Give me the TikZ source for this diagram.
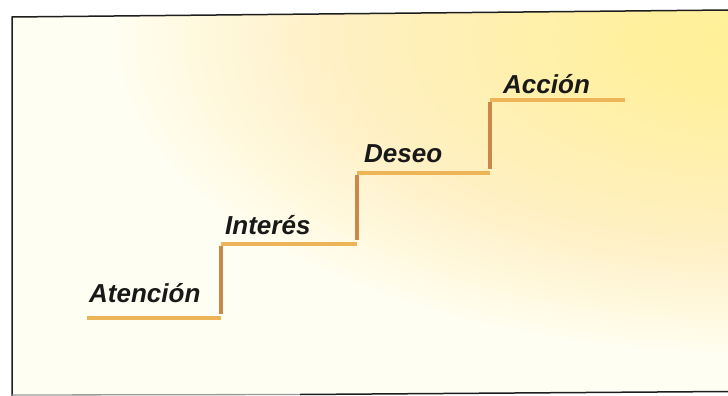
\documentclass[tikz,border=0pt]{standalone}
\usepackage{fontspec}
\setmainfont{Liberation Sans}
\definecolor{ivory}{HTML}{FFFEF2}
\definecolor{glow}{HTML}{FFF07A}
\definecolor{tread}{HTML}{EDB558}
\definecolor{riser}{HTML}{C8894A}
\definecolor{framec}{HTML}{1E1E1E}
\tikzset{
  lab/.style={anchor=base west, inner sep=0pt, font=\fontsize{26}{30}\selectfont\bfseries\itshape, text=black!90},
  treadline/.style={draw=tread, line width=4.2pt},
  riserline/.style={draw=riser, line width=3.2pt},
  frameline/.style={draw=framec, line width=1.5pt}
}
\begin{document}
\begin{tikzpicture}[x=1pt,y=-1pt]
\useasboundingbox (0,0) rectangle (728,396);
\fill[white] (0,0) rectangle (728,396);
\begin{scope}
  \clip (12,17) -- (728,10) -- (728,391) -- (12,395) -- cycle;
  \fill[ivory] (0,0) rectangle (728,396);
  \foreach \i in {1,...,40} {
    \fill[glow, fill opacity=0.026] (760,40) ellipse [x radius=16*\i, y radius=7.8*\i];
  }
\end{scope}
% frame
\coordinate (fbl) at (12,396);
\coordinate (ftl) at (12,17);
\coordinate (ftr) at (728,10);
\coordinate (fbm) at (300,394.5);
\coordinate (fbr) at (728,391.5);
\draw[frameline] (fbl) -- (ftl) -- (ftr);
\draw[frameline, draw=framec!45, line width=1.3pt] (12,395) -- (fbm);
\draw[frameline] (fbm) -- (fbr);
% stairs
\coordinate (s0) at (87,318);
\coordinate (s1) at (221,318);
\coordinate (s2) at (221,244);
\coordinate (s3) at (357,244);
\coordinate (s4) at (357,173);
\coordinate (s5) at (490,173);
\coordinate (s6) at (490,100);
\coordinate (s7) at (625,100);
\draw[riserline] ([yshift=4]s1) -- ([yshift=-2]s2);
\draw[riserline] ([yshift=4]s3) -- ([yshift=-2]s4);
\draw[riserline] ([yshift=4]s5) -- ([yshift=-2]s6);
\draw[treadline] (s0) -- (s1);
\draw[treadline] (s2) -- (s3);
\draw[treadline] (s4) -- (s5);
\draw[treadline] (s6) -- (s7);
% labels
\node[lab] (atencion) at (89,302) {Atención};
\node[lab] (interes) at (225,234) {Interés};
\node[lab] (deseo) at (364,162) {Deseo};
\node[lab] (accion) at (503,93) {Acción};
\end{tikzpicture}
\end{document}
